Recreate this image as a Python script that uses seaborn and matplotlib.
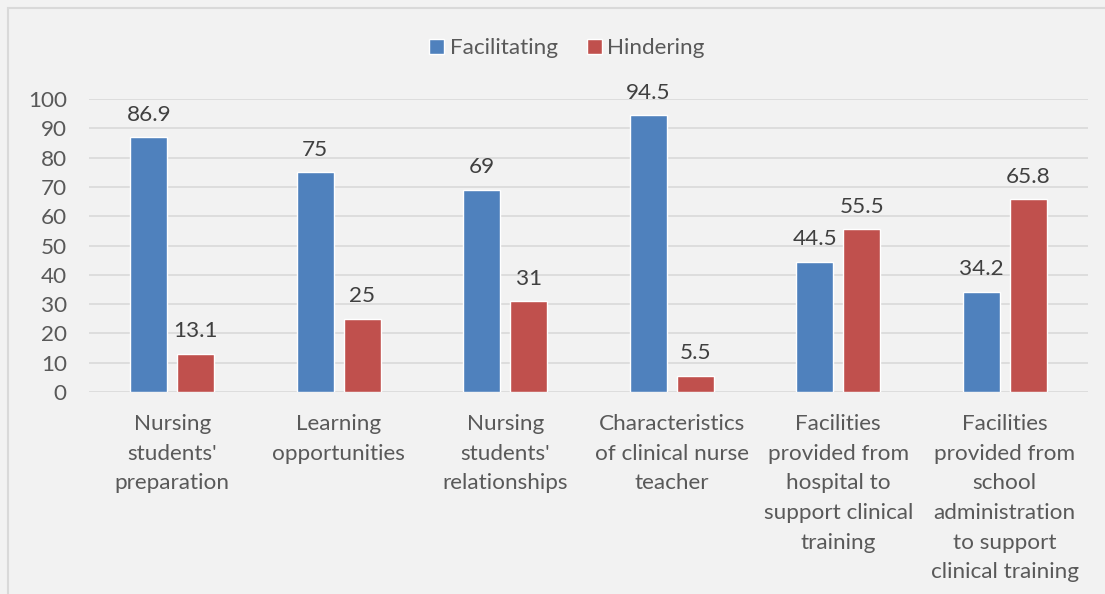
import matplotlib
matplotlib.use("Agg")
import matplotlib.pyplot as plt
import matplotlib.patches as mpatches
import seaborn as sns
import pandas as pd

categories = [
    "Nursing\nstudents'\npreparation",
    "Learning\nopportunities",
    "Nursing\nstudents'\nrelationships",
    "Characteristics\nof clinical nurse\nteacher",
    "Facilities\nprovided from\nhospital to\nsupport clinical\ntraining",
    "Facilities\nprovided from\nschool\nadministration\nto support\nclinical training",
]
facilitating = [86.9, 75, 69, 94.5, 44.5, 34.2]
hindering = [13.1, 25, 31, 5.5, 55.5, 65.8]
series = ["Facilitating", "Hindering"]
colors = ["#4F81BD", "#C0504D"]
yticks = list(range(0, 101, 10))

df = pd.DataFrame({
    "category": categories * 2,
    "value": facilitating + hindering,
    "series": [series[0]] * len(categories) + [series[1]] * len(categories),
})

sns.set_theme(style="white")
plt.rcParams["font.family"] = ["Lato", "DejaVu Sans"]
FS = 16.2

fig = plt.figure(figsize=(11.05, 5.94), dpi=100, facecolor="#F2F2F2")
ax = fig.add_axes([89/1105, 1-392/594, (1088-89)/1105, (392-99)/594])
ax.set_facecolor("#F2F2F2")

sns.barplot(data=df, x="category", y="value", hue="series", palette=colors,
            width=0.565, gap=0.21, ax=ax, legend=True, saturation=1)

for cont in ax.containers:
    labels = [f"{v:g}" for v in cont.datavalues]
    ax.bar_label(cont, labels=labels, padding=9, fontsize=FS, color="#404040")

ax.set_ylim(0, 100)
ax.set_yticks(yticks)
ax.set_xlim(-0.5, len(categories) - 0.5)
ax.grid(axis="y", color="#D9D9D9", linewidth=1.2)
ax.set_axisbelow(True)
for s in ax.spines.values():
    s.set_visible(False)
ax.tick_params(axis="both", length=0, labelsize=FS, colors="#595959")
ax.tick_params(axis="y", pad=16)
ax.tick_params(axis="x", pad=16)
for lab in ax.get_xticklabels():
    lab.set_linespacing(1.6)
    lab.set_color("#595959")
ax.set_xlabel("")
ax.set_ylabel("")

handles, labels = ax.get_legend_handles_labels()
ax.legend(handles, labels, loc="center", bbox_to_anchor=(567/1105, 1-48/594),
          bbox_transform=fig.transFigure, ncol=2, frameon=False, fontsize=FS,
          handlelength=0.65, handleheight=0.65, handletextpad=0.25,
          columnspacing=1.3, labelcolor="#595959")

border = mpatches.Rectangle((8/1105, -0.2), 1.5, 1.2 - 8/594, transform=fig.transFigure,
                            fill=False, edgecolor="#D9D9D9", linewidth=1.5, clip_on=False)
fig.patches.append(border)

fig.savefig("out.png", dpi=100, facecolor="#F2F2F2")
